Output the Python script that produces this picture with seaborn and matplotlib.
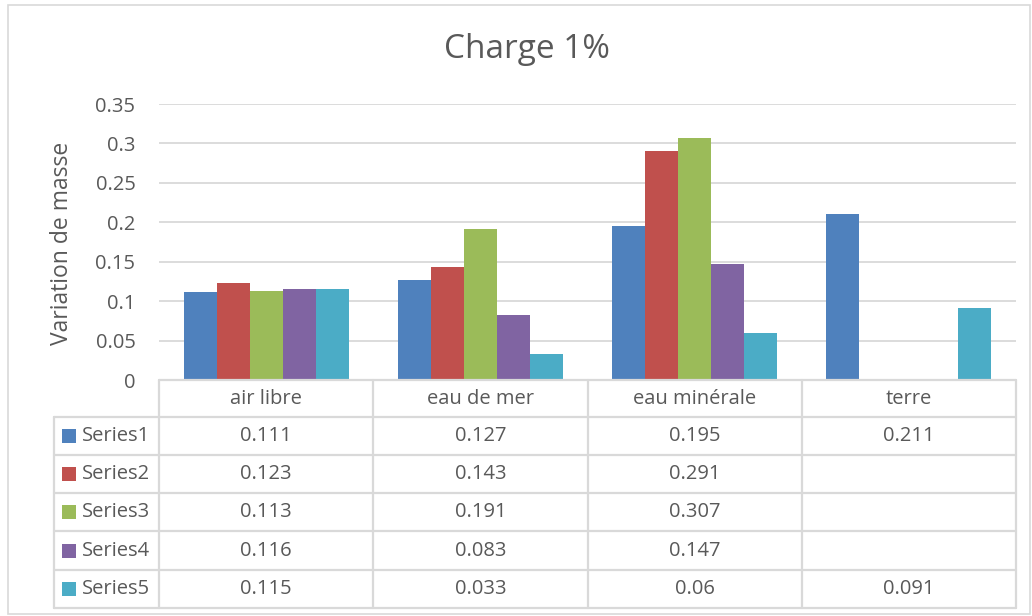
import numpy as np
import pandas as pd
import matplotlib
matplotlib.use("Agg")
import matplotlib.pyplot as plt
from matplotlib.lines import Line2D
from matplotlib.patches import Rectangle
import seaborn as sns

# ---- data ----
categories = ["air libre", "eau de mer", "eau minérale", "terre"]
series_names = ["Series1", "Series2", "Series3", "Series4", "Series5"]
series1 = [0.111, 0.127, 0.195, 0.211]
series2 = [0.123, 0.143, 0.291, None]
series3 = [0.113, 0.191, 0.307, None]
series4 = [0.116, 0.083, 0.147, None]
series5 = [0.115, 0.033, 0.06, 0.091]
y_ticks = [0, 0.05, 0.1, 0.15, 0.2, 0.25, 0.3, 0.35]
y_tick_labels = ["0", "0.05", "0.1", "0.15", "0.2", "0.25", "0.3", "0.35"]
title = "Charge 1%"
y_label = "Variation de masse"

colors = ["#4F81BD", "#C0504D", "#9BBB59", "#8064A2", "#4BACC6"]
text_color = "#595959"
grid_color = "#D9D9D9"
FS = 14.5

all_series = [series1, series2, series3, series4, series5]
rows = []
for name, vals in zip(series_names, all_series):
    for cat, v in zip(categories, vals):
        if v is not None:
            rows.append({"cat": cat, "series": name, "val": v})
df = pd.DataFrame(rows)

sns.set_theme(style="white")
plt.rcParams["font.family"] = ["Open Sans", "DejaVu Sans"]

W, H = 1032, 616
fig = plt.figure(figsize=(W / 100, H / 100), dpi=100)


def fx(x):
    return x / W


def fy(y):
    return 1 - y / H


# plot area in pixel units
L, R, T, B = 159, 1016, 104, 380
ax = fig.add_axes([fx(L), fy(B), fx(R - L), (B - T) / H])

sns.barplot(data=df, x="cat", y="val", hue="series", order=categories,
            hue_order=series_names, palette=colors, width=5 / 6.5,
            saturation=1, linewidth=0, ax=ax, legend=False)

ax.set_xlim(-0.5, len(categories) - 0.5)
ax.set_ylim(0, 0.35)
ax.set_yticks(y_ticks)
ax.set_yticklabels(y_tick_labels)
ax.set_xticks([])
ax.set_xlabel("")
ax.set_ylabel("")
ax.yaxis.grid(True, color=grid_color, linewidth=1.3)
ax.set_axisbelow(True)
for s in ax.spines.values():
    s.set_visible(False)
ax.tick_params(axis="y", length=0, pad=17, labelsize=FS, labelcolor=text_color)

# outer chart border
fig.patches.append(Rectangle((fx(8), fy(614)), fx(1022), (614 - 5) / H,
                             transform=fig.transFigure, fill=False,
                             edgecolor="#D9D9D9", linewidth=1.2))

fig.text(fx(527), fy(50), title, ha="center", va="center",
         fontsize=24, color=text_color)
fig.text(fx(62), fy(243), y_label, ha="center", va="center", rotation=90,
         fontsize=16.5, color=text_color)

# ---- data table below the plot ----
line_kw = dict(color="#D9D9D9", linewidth=1.6, transform=fig.transFigure)
col_edges = [L + i * (R - L) / len(categories) for i in range(len(categories) + 1)]
row_edges = [380, 417, 455, 493, 531, 570, 608]
tab_left = 54

# header top and column lines
fig.add_artist(Line2D([fx(L), fx(R)], [fy(row_edges[0]), fy(row_edges[0])], **line_kw))
for x in col_edges:
    fig.add_artist(Line2D([fx(x), fx(x)], [fy(row_edges[0]), fy(row_edges[-1])], **line_kw))
fig.add_artist(Line2D([fx(tab_left), fx(tab_left)], [fy(row_edges[1]), fy(row_edges[-1])], **line_kw))
for y in row_edges[1:]:
    fig.add_artist(Line2D([fx(tab_left), fx(R)], [fy(y), fy(y)], **line_kw))

# header labels
for i, cat in enumerate(categories):
    cx = (col_edges[i] + col_edges[i + 1]) / 2
    cy = (row_edges[0] + row_edges[1]) / 2
    fig.text(fx(cx), fy(cy), cat, ha="center", va="center",
             fontsize=FS, color=text_color)

# rows with legend keys and values
for r, (name, vals, c) in enumerate(zip(series_names, all_series, colors)):
    y0, y1 = row_edges[r + 1], row_edges[r + 2]
    cy = (y0 + y1) / 2
    fig.patches.append(Rectangle((fx(62), fy(cy + 7)), fx(14), 14 / H,
                                 transform=fig.transFigure, facecolor=c,
                                 edgecolor="none"))
    fig.text(fx(82), fy(cy), name, ha="left", va="center",
             fontsize=FS, color=text_color)
    for i, v in enumerate(vals):
        if v is None:
            continue
        cx = (col_edges[i] + col_edges[i + 1]) / 2
        fig.text(fx(cx), fy(cy), f"{v:g}", ha="center", va="center",
                 fontsize=FS, color=text_color)

fig.savefig("out.png", dpi=100, facecolor="white")
